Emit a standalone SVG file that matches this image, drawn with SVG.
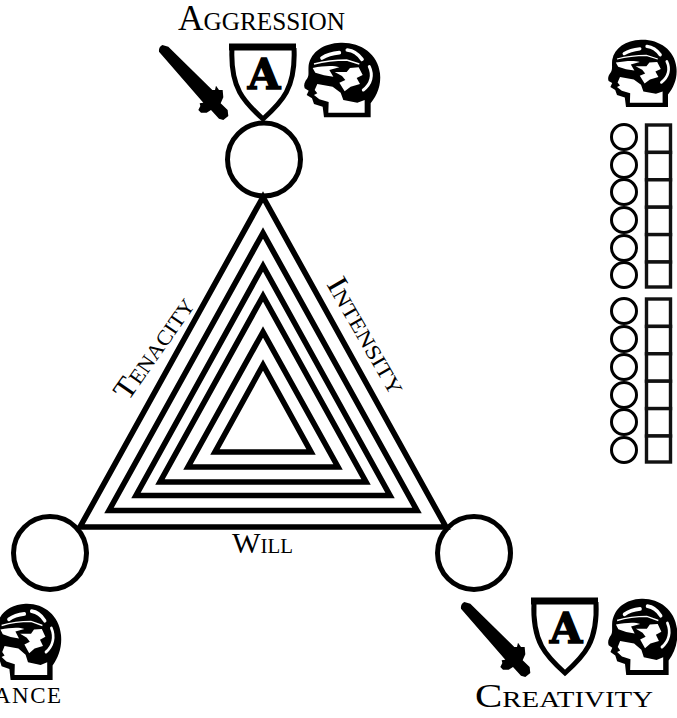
<svg xmlns="http://www.w3.org/2000/svg" xmlns:xlink="http://www.w3.org/1999/xlink" width="677" height="718" viewBox="0 0 677 718">
<style>
.tri{fill:none;stroke:#000;stroke-width:5.6;stroke-linejoin:miter;stroke-miterlimit:10}
.node{fill:#fff;stroke:#000;stroke-width:5}
.c{fill:#fff;stroke:#000;stroke-width:3}
.s{fill:#fff;stroke:#111;stroke-width:3.4}
.lab{font-family:"Liberation Serif",serif;font-variant:small-caps;fill:#000}
.a{font-family:"DejaVu Serif",serif;font-weight:bold;font-size:42px;fill:#000;stroke:#000;stroke-width:1.4;text-anchor:middle}
</style>
<defs>
<g id="head">
<path fill="#000" d="M72 232L212 232L212 190C232 165 244 135 240 100C234 40 180 6 122 8C70 10 34 35 26 75C24 95 28 105 22 115C14 125 10 135 14 145L26 152L20 165L36 175L42 192L68 200Z"/>
<path fill="#fff" d="M85 218L194 218L194 180L172 188L130 180L122 158L98 140L52 132L44 150L52 160L42 165L58 178L86 186Z"/>
<path fill="none" stroke="#fff" stroke-width="11" stroke-linecap="round" d="M66 54C82 44 100 40 118 38M142 30C160 32 176 44 186 58"/>
<path fill="none" stroke="#fff" stroke-width="9" stroke-linecap="round" d="M208 80C220 105 214 132 190 150"/>
<path fill="none" stroke="#fff" stroke-width="4" d="M42 72C80 62 110 60 140 60L178 72"/>
<path fill="#fff" d="M38 84C70 78 100 76 118 82L88 90L100 110L72 106L46 98Z"/>
<path fill="#fff" d="M104 96L140 96L150 84L176 82L188 105L170 114L180 132L152 140L134 154L118 128L136 120L126 108Z"/>
</g>
<path id="sword" fill="#000" d="M12 35Q10 22 22 15L40 20L172 150L180 150L183 137L192 150L203 150L205 172L197 190L218 210L220 228L205 240L192 236L168 210L155 218L138 218L130 210L136 198L134 190L145 188Z"/>
<g id="shield">
<path d="M229 47H296" fill="none" stroke="#000" stroke-width="7"/>
<path d="M232 48C230 88 244 102 263 119C282 102 296 88 294 48" fill="none" stroke="#000" stroke-width="5"/>
<text class="a" x="264" y="89">A</text>
</g>
</defs>
<g id="node-aggression">
<circle class="node" cx="264" cy="159.5" r="36.5"/>
<use href="#sword" xlink:href="#sword" transform="translate(155,40) scale(0.3333)"/>
<use href="#shield" xlink:href="#shield"/>
<use href="#head" xlink:href="#head" transform="translate(300,40) scale(0.3333)"/>
<text class="lab" x="178" y="30" font-size="35" textLength="167" lengthAdjust="spacingAndGlyphs">Aggression</text>
</g>
<g id="node-left">
<circle class="node" cx="50" cy="553" r="36.5"/>
<use href="#head" xlink:href="#head" transform="translate(-11,601) scale(0.3,0.34)"/>
<text class="lab" x="-6" y="703" font-size="23" textLength="67" style="font-variant:normal">ANCE</text>
</g>
<g id="node-creativity">
<circle class="node" cx="474" cy="553" r="36.5"/>
<use href="#sword" xlink:href="#sword" transform="translate(457,597) scale(0.3333)"/>
<use href="#shield" xlink:href="#shield" transform="translate(302,554)"/>
<use href="#head" xlink:href="#head" transform="translate(604.4,596) scale(0.303,0.34)"/>
<text class="lab" x="475" y="707" font-size="34" textLength="178" lengthAdjust="spacingAndGlyphs">Creativity</text>
</g>
<g id="connectors">
<polygon class="tri" points="263,197 80,527 446,527"/>
<polygon class="tri" points="263,233 109,510.5 417,510.5"/>
<polygon class="tri" points="263,266 136,495.5 390,495.5"/>
<polygon class="tri" points="263,296 160,482 366,482"/>
<polygon class="tri" points="263,332 188,467 338,467"/>
<polygon class="tri" points="263,365 215,452 311,452"/>
</g>
<g id="labels">
<text class="lab" font-size="30" transform="translate(128,402) rotate(-55)" textLength="118" lengthAdjust="spacingAndGlyphs">Tenacity</text>
<text class="lab" font-size="30" transform="translate(326,284) rotate(60)" textLength="130" lengthAdjust="spacingAndGlyphs">Intensity</text>
<text class="lab" x="232" y="553" font-size="29" textLength="61" lengthAdjust="spacingAndGlyphs">Will</text>
</g>
<g id="tracker">
<g id="tracker-head"><use href="#head" xlink:href="#head" transform="translate(604.4,37.4) scale(0.3)"/></g>
<rect class="s" x="646.5" y="125" width="24" height="27.4"/><rect class="s" x="646.5" y="152.4" width="24" height="27.4"/><rect class="s" x="646.5" y="179.8" width="24" height="27.4"/><rect class="s" x="646.5" y="207.2" width="24" height="27.4"/><rect class="s" x="646.5" y="234.6" width="24" height="27.4"/><rect class="s" x="646.5" y="262" width="24" height="25"/>
<rect class="s" x="646.5" y="299" width="24" height="27.4"/><rect class="s" x="646.5" y="326.4" width="24" height="27.4"/><rect class="s" x="646.5" y="353.8" width="24" height="27.4"/><rect class="s" x="646.5" y="381.2" width="24" height="27.4"/><rect class="s" x="646.5" y="408.6" width="24" height="27.4"/><rect class="s" x="646.5" y="436" width="24" height="26"/>
<circle class="c" cx="624" cy="137" r="12.5"/><circle class="c" cx="624" cy="165" r="12.5"/><circle class="c" cx="624" cy="192" r="12.5"/><circle class="c" cx="624" cy="220" r="12.5"/><circle class="c" cx="624" cy="248" r="12.5"/><circle class="c" cx="624" cy="275" r="12.5"/>
<circle class="c" cx="624" cy="311" r="12.5"/><circle class="c" cx="624" cy="339" r="12.5"/><circle class="c" cx="624" cy="367" r="12.5"/><circle class="c" cx="624" cy="395" r="12.5"/><circle class="c" cx="624" cy="422" r="12.5"/><circle class="c" cx="624" cy="450" r="12.5"/>
</g>
</svg>
